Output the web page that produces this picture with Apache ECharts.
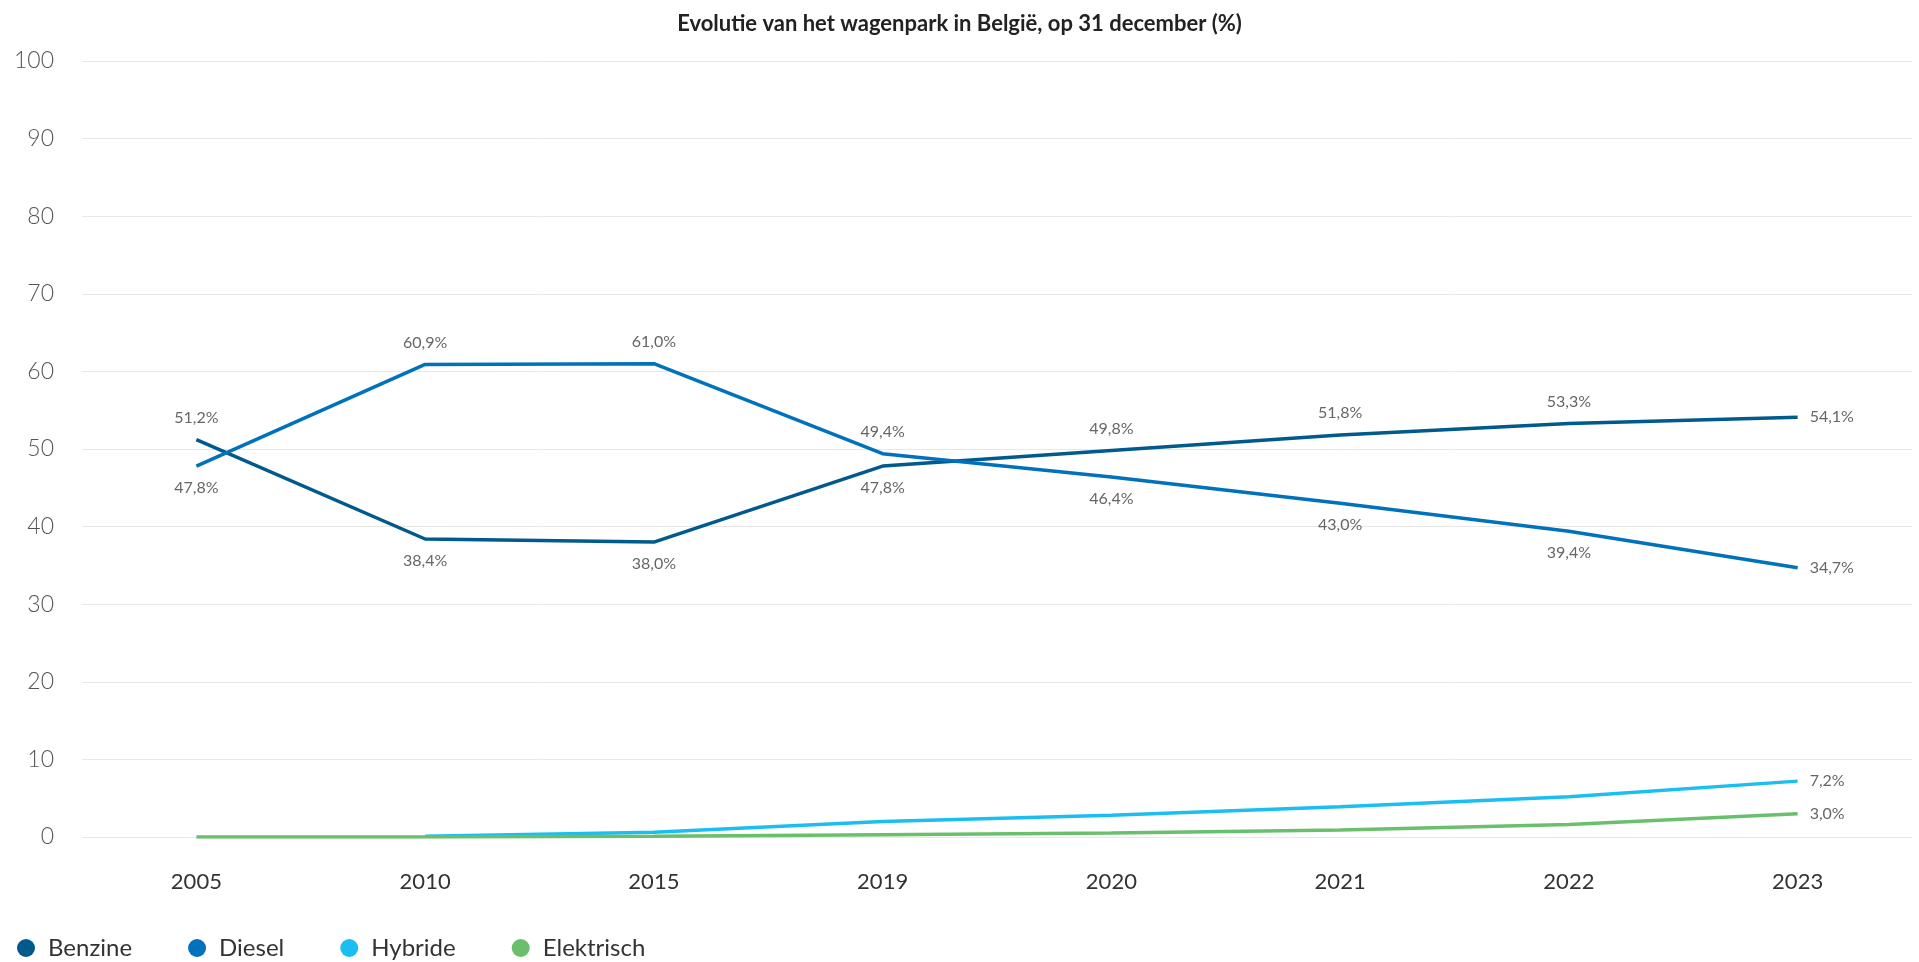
<!DOCTYPE html>
<head>
    <meta charset="utf-8">
    <title>Wagenpark België</title>
    <style>
        html, body { margin: 0; padding: 0; background: #fff; }
        #main { width: 1919px; height: 962px; }
    </style>
</head>
<body>
<div id="main"></div>
<script src="https://cdn.jsdelivr.net/npm/echarts@6/dist/echarts.min.js"></script>
<script type="text/javascript">
// data
var years = ['2005', '2010', '2015', '2019', '2020', '2021', '2022', '2023'];
var benzine = [51.2, 38.4, 38.0, 47.8, 49.8, 51.8, 53.3, 54.1];
var diesel = [47.8, 60.9, 61.0, 49.4, 46.4, 43.0, 39.4, 34.7];
var hybride = [null, 0.1, 0.6, 2.0, 2.8, 3.9, 5.2, 7.2];
var elektrisch = [0.0, 0.0, 0.1, 0.3, 0.5, 0.9, 1.6, 3.0];
var yTicks = [0, 10, 20, 30, 40, 50, 60, 70, 80, 90, 100];

var FONT = 'Lato, "Noto Sans", sans-serif';

function fmt(v) {
    return v.toFixed(1).replace('.', ',') + '%';
}

// label above for the higher of benzine/diesel, below for the lower, right at the end
function labelled(data, other) {
    var last = data.length - 1;
    return data.map(function (v, i) {
        var pos = i === last ? 'right' : (v >= other[i] ? 'top' : 'bottom');
        return {
            value: v,
            label: { show: true, position: pos, distance: i === last ? 12 : 14 }
        };
    });
}

function lastOnly(data) {
    var last = data.length - 1;
    return data.map(function (v, i) {
        if (i !== last) return v;
        return { value: v, label: { show: true, position: 'right', distance: 12 } };
    });
}

var labelStyle = {
    show: false,
    color: '#666',
    fontFamily: FONT,
    fontSize: 16,
    formatter: function (p) { return fmt(p.value); }
};

function line(name, data) {
    return {
        name: name, type: 'line', data: data,
        showSymbol: true, symbol: 'circle', symbolSize: 0,
        lineStyle: { width: 3.5 },
        label: labelStyle
    };
}

var myChart = echarts.init(document.getElementById('main'));

var option = {
    animation: false,
    color: ['#005a8c', '#0072bb', '#1bbef0', '#6abf6c'],
    title: {
        text: 'Evolutie van het wagenpark in België, op 31 december (%)',
        left: 'center',
        top: 8,
        textStyle: { fontFamily: FONT, fontSize: 22, fontWeight: 'bold', color: '#222' }
    },
    grid: { left: 82, right: 7, top: 61, bottom: 125 },
    legend: {
        left: 12,
        bottom: -3,
        icon: 'circle',
        itemWidth: 18,
        itemHeight: 18,
        itemGap: 56,
        textStyle: { fontFamily: FONT, fontSize: 24, color: '#333', padding: [0, 0, 0, 8] },
        data: ['Benzine', 'Diesel', 'Hybride', 'Elektrisch']
    },
    xAxis: {
        type: 'category',
        data: years,
        boundaryGap: true,
        axisLine: { show: false },
        axisTick: { show: false },
        axisLabel: { fontFamily: FONT, fontSize: 22, color: '#333', margin: 34 }
    },
    yAxis: {
        type: 'value',
        min: yTicks[0],
        max: yTicks[yTicks.length - 1],
        interval: 10,
        axisLine: { show: false },
        axisTick: { show: false },
        splitLine: { lineStyle: { color: '#e8e8e8', width: 1 } },
        axisLabel: {
            fontFamily: FONT, fontSize: 23, fontWeight: 300, color: '#555', margin: 28,
            padding: [0, 0, 16, 0]
        }
    },
    series: [
        line('Benzine', labelled(benzine, diesel)),
        line('Diesel', labelled(diesel, benzine)),
        line('Hybride', lastOnly(hybride)),
        line('Elektrisch', lastOnly(elektrisch))
    ]
};
option.series[0].z = 3;
myChart.setOption(option);
</script>
</body>
